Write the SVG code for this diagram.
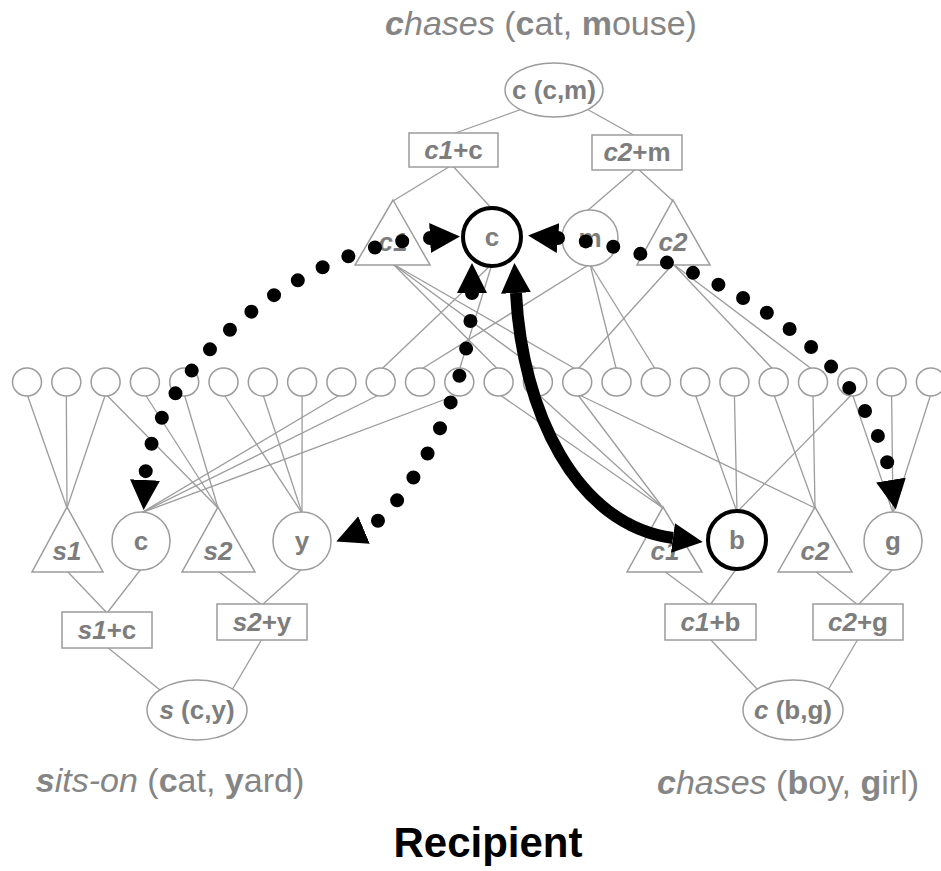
<svg xmlns="http://www.w3.org/2000/svg" width="941" height="871" viewBox="0 0 941 871">
<style>
.ln{stroke:#9c9c9c;stroke-width:1.3;fill:none}
.nd{fill:#fff;stroke:#9c9c9c;stroke-width:1.5}
.hl{fill:#fff;stroke:#000;stroke-width:4}
.lb{font-family:"Liberation Sans",Arial,sans-serif;font-weight:bold;font-size:26px;fill:#7d7d7d;text-anchor:middle}
.cap{font-family:"Liberation Sans",Arial,sans-serif;font-size:34px;fill:#858585;text-anchor:middle}
.ttl{font-family:"Liberation Sans",Arial,sans-serif;font-size:42px;font-weight:bold;fill:#000;text-anchor:middle}
.dot{fill:none;stroke:#000;stroke-width:14;stroke-linecap:round;stroke-dasharray:0 28}
.thk{fill:none;stroke:#000;stroke-width:12}
.b{font-weight:bold}
.i{font-style:italic}
</style>
<defs>
<marker id="ah" markerUnits="userSpaceOnUse" markerWidth="30" markerHeight="30" viewBox="0 0 30 30" refX="0" refY="15" orient="auto-start-reverse">
<path d="M0,0 L30,15 L0,30 z" fill="#000"/>
</marker>
</defs>
<rect width="941" height="871" fill="#fff"/>

<g id="connectors">
<line class="ln" x1="525" y1="108" x2="450" y2="135"/>
<line class="ln" x1="585" y1="108" x2="637" y2="137"/>
<line class="ln" x1="452" y1="165" x2="393" y2="201"/>
<line class="ln" x1="452" y1="165" x2="493" y2="210"/>
<line class="ln" x1="637" y1="168" x2="587" y2="211"/>
<line class="ln" x1="637" y1="168" x2="673" y2="201"/>
<line class="ln" x1="393" y1="264" x2="498.6" y2="370"/>
<line class="ln" x1="393" y1="264" x2="537.9" y2="370"/>
<line class="ln" x1="393" y1="264" x2="577.2" y2="370"/>
<line class="ln" x1="492" y1="264" x2="380.7" y2="370"/>
<line class="ln" x1="492" y1="264" x2="459.3" y2="370"/>
<line class="ln" x1="590" y1="264" x2="420" y2="370"/>
<line class="ln" x1="590" y1="264" x2="616.5" y2="370"/>
<line class="ln" x1="590" y1="264" x2="655.8" y2="370"/>
<line class="ln" x1="673" y1="264" x2="577.2" y2="370"/>
<line class="ln" x1="673" y1="264" x2="773.7" y2="370"/>
<line class="ln" x1="673" y1="264" x2="813" y2="370"/>
<line class="ln" x1="27" y1="394" x2="67" y2="508"/>
<line class="ln" x1="66.3" y1="394" x2="67" y2="508"/>
<line class="ln" x1="105.6" y1="394" x2="67" y2="508"/>
<line class="ln" x1="105.6" y1="394" x2="218" y2="508"/>
<line class="ln" x1="144.9" y1="394" x2="218" y2="508"/>
<line class="ln" x1="184.2" y1="394" x2="218" y2="508"/>
<line class="ln" x1="341.4" y1="394" x2="141" y2="513"/>
<line class="ln" x1="380.7" y1="394" x2="141" y2="513"/>
<line class="ln" x1="459.3" y1="394" x2="141" y2="513"/>
<line class="ln" x1="223.5" y1="394" x2="302" y2="513"/>
<line class="ln" x1="262.8" y1="394" x2="302" y2="513"/>
<line class="ln" x1="302.1" y1="394" x2="302" y2="513"/>
<line class="ln" x1="498.6" y1="394" x2="663" y2="508"/>
<line class="ln" x1="537.9" y1="394" x2="663" y2="508"/>
<line class="ln" x1="577.2" y1="394" x2="663" y2="508"/>
<line class="ln" x1="695.1" y1="394" x2="737" y2="512"/>
<line class="ln" x1="734.4" y1="394" x2="737" y2="512"/>
<line class="ln" x1="852.3" y1="394" x2="737" y2="512"/>
<line class="ln" x1="577.2" y1="394" x2="815" y2="508"/>
<line class="ln" x1="773.7" y1="394" x2="815" y2="508"/>
<line class="ln" x1="813" y1="394" x2="815" y2="508"/>
<line class="ln" x1="852.3" y1="394" x2="893" y2="513"/>
<line class="ln" x1="891.6" y1="394" x2="893" y2="513"/>
<line class="ln" x1="930.9" y1="394" x2="893" y2="513"/>
<line class="ln" x1="67" y1="571" x2="107" y2="613"/>
<line class="ln" x1="141" y1="569" x2="107" y2="613"/>
<line class="ln" x1="218" y1="571" x2="262" y2="605"/>
<line class="ln" x1="302" y1="569" x2="262" y2="605"/>
<line class="ln" x1="107" y1="647" x2="160" y2="690"/>
<line class="ln" x1="262" y1="639" x2="232" y2="690"/>
<line class="ln" x1="664" y1="571" x2="710" y2="605"/>
<line class="ln" x1="737" y1="568" x2="710" y2="605"/>
<line class="ln" x1="815" y1="571" x2="858" y2="605"/>
<line class="ln" x1="893" y1="569" x2="858" y2="605"/>
<line class="ln" x1="710" y1="639" x2="758" y2="690"/>
<line class="ln" x1="858" y1="639" x2="828" y2="690"/>
</g>

<g id="semantic-units">
<ellipse class="nd" cx="27" cy="382" rx="14.5" ry="14"/>
<ellipse class="nd" cx="66.3" cy="382" rx="14.5" ry="14"/>
<ellipse class="nd" cx="105.6" cy="382" rx="14.5" ry="14"/>
<ellipse class="nd" cx="144.9" cy="382" rx="14.5" ry="14"/>
<ellipse class="nd" cx="184.2" cy="382" rx="14.5" ry="14"/>
<ellipse class="nd" cx="223.5" cy="382" rx="14.5" ry="14"/>
<ellipse class="nd" cx="262.8" cy="382" rx="14.5" ry="14"/>
<ellipse class="nd" cx="302.1" cy="382" rx="14.5" ry="14"/>
<ellipse class="nd" cx="341.4" cy="382" rx="14.5" ry="14"/>
<ellipse class="nd" cx="380.7" cy="382" rx="14.5" ry="14"/>
<ellipse class="nd" cx="420" cy="382" rx="14.5" ry="14"/>
<ellipse class="nd" cx="459.3" cy="382" rx="14.5" ry="14"/>
<ellipse class="nd" cx="498.6" cy="382" rx="14.5" ry="14"/>
<ellipse class="nd" cx="537.9" cy="382" rx="14.5" ry="14"/>
<ellipse class="nd" cx="577.2" cy="382" rx="14.5" ry="14"/>
<ellipse class="nd" cx="616.5" cy="382" rx="14.5" ry="14"/>
<ellipse class="nd" cx="655.8" cy="382" rx="14.5" ry="14"/>
<ellipse class="nd" cx="695.1" cy="382" rx="14.5" ry="14"/>
<ellipse class="nd" cx="734.4" cy="382" rx="14.5" ry="14"/>
<ellipse class="nd" cx="773.7" cy="382" rx="14.5" ry="14"/>
<ellipse class="nd" cx="813" cy="382" rx="14.5" ry="14"/>
<ellipse class="nd" cx="852.3" cy="382" rx="14.5" ry="14"/>
<ellipse class="nd" cx="891.6" cy="382" rx="14.5" ry="14"/>
<ellipse class="nd" cx="930.9" cy="382" rx="14.5" ry="14"/>
</g>

<g id="top-P">
<ellipse class="nd" cx="554" cy="90" rx="49" ry="27"/>
<text class="lb" x="554" y="99">c (c,m)</text>
</g>
<g id="top-SP1">
<rect class="nd" x="409" y="133" width="89" height="34"/>
<text class="lb" x="453.5" y="159"><tspan class="i">c1</tspan>+c</text>
</g>
<g id="top-SP2">
<rect class="nd" x="592" y="135" width="90" height="35"/>
<text class="lb" x="637" y="161"><tspan class="i">c2</tspan>+m</text>
</g>
<g id="top-c1">
<polygon class="nd" points="393,200 430,265 355,265"/>
<text class="lb" x="393" y="251"><tspan class="i">c1</tspan></text>
</g>
<g id="top-c">
<circle class="hl" cx="492" cy="237" r="29"/>
<text class="lb" x="492" y="246">c</text>
</g>
<g id="top-m">
<circle class="nd" cx="590" cy="238" r="28"/>
<text class="lb" x="590" y="247">m</text>
</g>
<g id="top-c2">
<polygon class="nd" points="673,200 710,265 637,265"/>
<text class="lb" x="673" y="251"><tspan class="i">c2</tspan></text>
</g>

<g id="left-s1">
<polygon class="nd" points="67,507 103,572 32,572"/>
<text class="lb" x="67" y="560"><tspan class="i">s1</tspan></text>
</g>
<g id="left-c">
<circle class="nd" cx="141" cy="541" r="29"/>
<text class="lb" x="141" y="550">c</text>
</g>
<g id="left-s2">
<polygon class="nd" points="218,507 255,572 182,572"/>
<text class="lb" x="218" y="560"><tspan class="i">s2</tspan></text>
</g>
<g id="left-y">
<circle class="nd" cx="302" cy="541" r="29"/>
<text class="lb" x="302" y="550">y</text>
</g>
<g id="left-SP1">
<rect class="nd" x="62" y="612" width="90" height="36"/>
<text class="lb" x="107" y="639"><tspan class="i">s1</tspan>+c</text>
</g>
<g id="left-SP2">
<rect class="nd" x="217" y="604" width="90" height="36"/>
<text class="lb" x="262" y="631"><tspan class="i">s2</tspan>+y</text>
</g>
<g id="left-P">
<ellipse class="nd" cx="197" cy="710" rx="50" ry="30"/>
<text class="lb" x="197" y="719"><tspan class="i">s</tspan> (c,y)</text>
</g>

<g id="right-c1">
<polygon class="nd" points="663,507 702,572 627,572"/>
<text class="lb" x="665" y="560"><tspan class="i">c1</tspan></text>
</g>
<g id="right-b">
<circle class="hl" cx="737" cy="540" r="29"/>
<text class="lb" x="737" y="549">b</text>
</g>
<g id="right-c2">
<polygon class="nd" points="815,507 852,572 778,572"/>
<text class="lb" x="815" y="560"><tspan class="i">c2</tspan></text>
</g>
<g id="right-g">
<circle class="nd" cx="893" cy="541" r="29"/>
<text class="lb" x="893" y="550">g</text>
</g>
<g id="right-SP1">
<rect class="nd" x="665" y="604" width="91" height="36"/>
<text class="lb" x="710.5" y="631"><tspan class="i">c1</tspan>+b</text>
</g>
<g id="right-SP2">
<rect class="nd" x="813" y="604" width="90" height="36"/>
<text class="lb" x="858" y="631"><tspan class="i">c2</tspan>+g</text>
</g>
<g id="right-P">
<ellipse class="nd" cx="793" cy="710" rx="50" ry="30"/>
<text class="lb" x="793" y="719"><tspan class="i">c</tspan> (b,g)</text>
</g>

<g id="mapping-arrows">
<path class="dot" d="M430,238 C300,245 150,370 145,480" marker-start="url(#ah)" marker-end="url(#ah)"/>
<path class="dot" d="M558,238 C700,250 870,350 891,480" marker-start="url(#ah)" marker-end="url(#ah)"/>
<path class="dot" d="M472,293 C472,400 400,515 364,530" marker-start="url(#ah)" marker-end="url(#ah)"/>
<path class="thk" d="M516,293 C522,410 575,525 673,538" marker-start="url(#ah)" marker-end="url(#ah)"/>
</g>

<g id="captions">
<text class="cap" x="541" y="35"><tspan class="b i">c</tspan><tspan class="i">hases</tspan> (<tspan class="b">c</tspan>at, <tspan class="b">m</tspan>ouse)</text>
<text class="cap" x="170" y="792"><tspan class="b i">s</tspan><tspan class="i">its-on</tspan> (<tspan class="b">c</tspan>at, <tspan class="b">y</tspan>ard)</text>
<text class="cap" x="788" y="794"><tspan class="b i">c</tspan><tspan class="i">hases</tspan> (<tspan class="b">b</tspan>oy, <tspan class="b">g</tspan>irl)</text>
<text class="ttl" x="488" y="857">Recipient</text>
</g>
</svg>
